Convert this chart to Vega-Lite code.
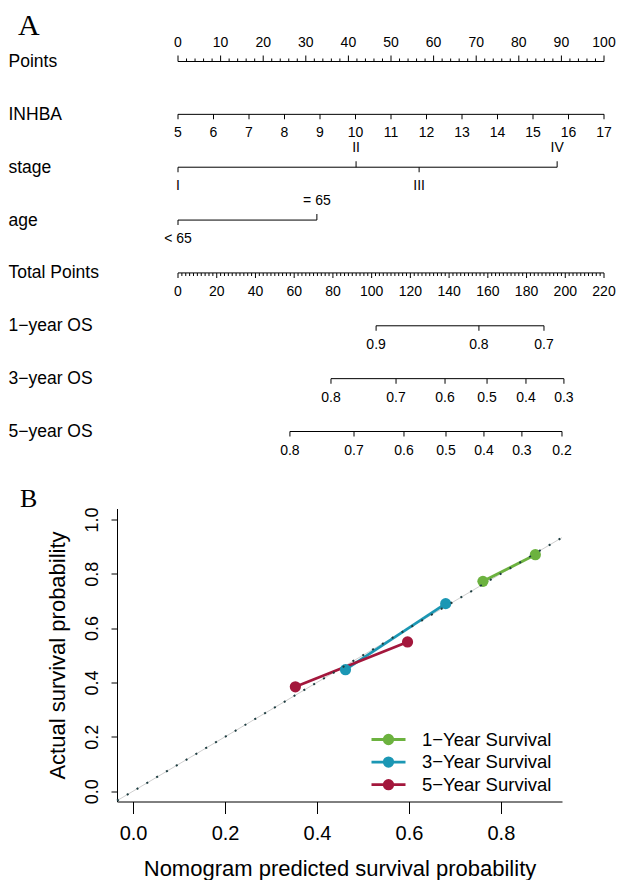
{
  "$schema": "https://vega.github.io/schema/vega-lite/v6.json",
  "background": "white",
  "padding": {"left": 8, "top": 10.5, "right": 0, "bottom": 0},
  "spacing": 28,
  "config": {"view": {"stroke": null}, "font": "Liberation Sans"},
  "vconcat": [
    {
      "width": 487,
      "height": 370,
      "title": {"text": "A", "anchor": "start", "frame": "group", "font": "Liberation Serif", "fontSize": 30, "fontWeight": "normal", "dx": -99, "offset": -29, "baseline": "alphabetic", "color": "black"},
      "encoding": {
        "y": {"field": "r", "type": "nominal",
          "scale": {"type": "point", "padding": 0, "domain": ["Points", "INHBA", "stage", "age", "Total Points", "1−year OS", "3−year OS", "5−year OS"]},
          "axis": {"title": null, "ticks": false, "domain": false, "labelAlign": "left", "labelPadding": 109, "labelFontSize": 17.5, "labelFont": "Liberation Sans", "labelColor": "black", "labelBaseline": "middle", "labelLimit": 200}}
      },
      "resolve": {"scale": {"x": "independent"}},
      "layer": [
        {
          "data": {"values": [
            {"r":"Points","v":0,"l":"0","s":"u","m":1},{"r":"Points","v":2,"l":"","s":"u","m":0},{"r":"Points","v":4,"l":"","s":"u","m":0},{"r":"Points","v":6,"l":"","s":"u","m":0},{"r":"Points","v":8,"l":"","s":"u","m":0},
            {"r":"Points","v":10,"l":"10","s":"u","m":1},{"r":"Points","v":12,"l":"","s":"u","m":0},{"r":"Points","v":14,"l":"","s":"u","m":0},{"r":"Points","v":16,"l":"","s":"u","m":0},{"r":"Points","v":18,"l":"","s":"u","m":0},
            {"r":"Points","v":20,"l":"20","s":"u","m":1},{"r":"Points","v":22,"l":"","s":"u","m":0},{"r":"Points","v":24,"l":"","s":"u","m":0},{"r":"Points","v":26,"l":"","s":"u","m":0},{"r":"Points","v":28,"l":"","s":"u","m":0},
            {"r":"Points","v":30,"l":"30","s":"u","m":1},{"r":"Points","v":32,"l":"","s":"u","m":0},{"r":"Points","v":34,"l":"","s":"u","m":0},{"r":"Points","v":36,"l":"","s":"u","m":0},{"r":"Points","v":38,"l":"","s":"u","m":0},
            {"r":"Points","v":40,"l":"40","s":"u","m":1},{"r":"Points","v":42,"l":"","s":"u","m":0},{"r":"Points","v":44,"l":"","s":"u","m":0},{"r":"Points","v":46,"l":"","s":"u","m":0},{"r":"Points","v":48,"l":"","s":"u","m":0},
            {"r":"Points","v":50,"l":"50","s":"u","m":1},{"r":"Points","v":52,"l":"","s":"u","m":0},{"r":"Points","v":54,"l":"","s":"u","m":0},{"r":"Points","v":56,"l":"","s":"u","m":0},{"r":"Points","v":58,"l":"","s":"u","m":0},
            {"r":"Points","v":60,"l":"60","s":"u","m":1},{"r":"Points","v":62,"l":"","s":"u","m":0},{"r":"Points","v":64,"l":"","s":"u","m":0},{"r":"Points","v":66,"l":"","s":"u","m":0},{"r":"Points","v":68,"l":"","s":"u","m":0},
            {"r":"Points","v":70,"l":"70","s":"u","m":1},{"r":"Points","v":72,"l":"","s":"u","m":0},{"r":"Points","v":74,"l":"","s":"u","m":0},{"r":"Points","v":76,"l":"","s":"u","m":0},{"r":"Points","v":78,"l":"","s":"u","m":0},
            {"r":"Points","v":80,"l":"80","s":"u","m":1},{"r":"Points","v":82,"l":"","s":"u","m":0},{"r":"Points","v":84,"l":"","s":"u","m":0},{"r":"Points","v":86,"l":"","s":"u","m":0},{"r":"Points","v":88,"l":"","s":"u","m":0},
            {"r":"Points","v":90,"l":"90","s":"u","m":1},{"r":"Points","v":92,"l":"","s":"u","m":0},{"r":"Points","v":94,"l":"","s":"u","m":0},{"r":"Points","v":96,"l":"","s":"u","m":0},{"r":"Points","v":98,"l":"","s":"u","m":0},
            {"r":"Points","v":100,"l":"100","s":"u","m":1},
            {"r":"stage","v":0,"l":"I","s":"d","m":1},{"r":"stage","v":41.8,"l":"II","s":"u","m":1},{"r":"stage","v":56.6,"l":"III","s":"d","m":1},{"r":"stage","v":89.0,"l":"IV","s":"u","m":1},
            {"r":"age","v":0,"l":"< 65","s":"d","m":1},{"r":"age","v":32.6,"l":"= 65","s":"u","m":1}
          ]},
          "encoding": {"x": {"field": "v", "type": "quantitative", "scale": {"domain": [0, 100], "range": [61, 487], "nice": false, "zero": false}, "axis": null}},
          "layer": [
            {"mark": {"type": "rule", "color": "black", "strokeWidth": 1},
             "encoding": {"x": {"aggregate": "min", "field": "v", "type": "quantitative", "scale": {"domain": [0, 100], "range": [61, 487], "nice": false, "zero": false}, "axis": null}, "x2": {"aggregate": "max", "field": "v"}}},
            {"transform": [{"filter": "datum.s == 'u' && datum.m == 1"}], "mark": {"type": "tick", "orient": "vertical", "color": "black", "size": 6, "thickness": 1, "yOffset": -3, "opacity": 1}},
            {"transform": [{"filter": "datum.s == 'u' && datum.m == 0"}], "mark": {"type": "tick", "orient": "vertical", "color": "black", "size": 3, "thickness": 1, "yOffset": -1.5, "opacity": 1}},
            {"transform": [{"filter": "datum.s == 'd' && datum.m == 1"}], "mark": {"type": "tick", "orient": "vertical", "color": "black", "size": 5, "thickness": 1, "yOffset": 2.5, "opacity": 1}},
            {"transform": [{"filter": "datum.s == 'u' && datum.l != ''"}], "mark": {"type": "text", "dy": -19, "fontSize": 14, "font": "Liberation Sans", "color": "black", "baseline": "middle", "align": "center"}, "encoding": {"text": {"field": "l"}}},
            {"transform": [{"filter": "datum.s == 'd' && datum.l != ''"}], "mark": {"type": "text", "dy": 19, "fontSize": 14, "font": "Liberation Sans", "color": "black", "baseline": "middle", "align": "center"}, "encoding": {"text": {"field": "l"}}}
          ]
        },
        {
          "data": {"values": [
            {"r":"INHBA","v":5,"l":"5","s":"d","m":1},{"r":"INHBA","v":6,"l":"6","s":"d","m":1},{"r":"INHBA","v":7,"l":"7","s":"d","m":1},{"r":"INHBA","v":8,"l":"8","s":"d","m":1},
            {"r":"INHBA","v":9,"l":"9","s":"d","m":1},{"r":"INHBA","v":10,"l":"10","s":"d","m":1},{"r":"INHBA","v":11,"l":"11","s":"d","m":1},{"r":"INHBA","v":12,"l":"12","s":"d","m":1},
            {"r":"INHBA","v":13,"l":"13","s":"d","m":1},{"r":"INHBA","v":14,"l":"14","s":"d","m":1},{"r":"INHBA","v":15,"l":"15","s":"d","m":1},{"r":"INHBA","v":16,"l":"16","s":"d","m":1},
            {"r":"INHBA","v":17,"l":"17","s":"d","m":1}
          ]},
          "encoding": {"x": {"field": "v", "type": "quantitative", "scale": {"domain": [5, 17], "range": [61, 487], "nice": false, "zero": false}, "axis": null}},
          "layer": [
            {"mark": {"type": "rule", "color": "black", "strokeWidth": 1},
             "encoding": {"x": {"aggregate": "min", "field": "v", "type": "quantitative", "scale": {"domain": [5, 17], "range": [61, 487], "nice": false, "zero": false}, "axis": null}, "x2": {"aggregate": "max", "field": "v"}}},
            {"mark": {"type": "tick", "orient": "vertical", "color": "black", "size": 5, "thickness": 1, "yOffset": 2.5, "opacity": 1}},
            {"mark": {"type": "text", "dy": 19, "fontSize": 14, "font": "Liberation Sans", "color": "black", "baseline": "middle", "align": "center"}, "encoding": {"text": {"field": "l"}}}
          ]
        },
        {
          "data": {"values": [
            {"r":"Total Points","v":0,"l":"0","s":"d","m":1},{"r":"Total Points","v":2,"l":"","s":"d","m":0},{"r":"Total Points","v":4,"l":"","s":"d","m":0},{"r":"Total Points","v":6,"l":"","s":"d","m":0},{"r":"Total Points","v":8,"l":"","s":"d","m":0},{"r":"Total Points","v":10,"l":"","s":"d","m":0},{"r":"Total Points","v":12,"l":"","s":"d","m":0},{"r":"Total Points","v":14,"l":"","s":"d","m":0},{"r":"Total Points","v":16,"l":"","s":"d","m":0},{"r":"Total Points","v":18,"l":"","s":"d","m":0},
            {"r":"Total Points","v":20,"l":"20","s":"d","m":1},{"r":"Total Points","v":22,"l":"","s":"d","m":0},{"r":"Total Points","v":24,"l":"","s":"d","m":0},{"r":"Total Points","v":26,"l":"","s":"d","m":0},{"r":"Total Points","v":28,"l":"","s":"d","m":0},{"r":"Total Points","v":30,"l":"","s":"d","m":0},{"r":"Total Points","v":32,"l":"","s":"d","m":0},{"r":"Total Points","v":34,"l":"","s":"d","m":0},{"r":"Total Points","v":36,"l":"","s":"d","m":0},{"r":"Total Points","v":38,"l":"","s":"d","m":0},
            {"r":"Total Points","v":40,"l":"40","s":"d","m":1},{"r":"Total Points","v":42,"l":"","s":"d","m":0},{"r":"Total Points","v":44,"l":"","s":"d","m":0},{"r":"Total Points","v":46,"l":"","s":"d","m":0},{"r":"Total Points","v":48,"l":"","s":"d","m":0},{"r":"Total Points","v":50,"l":"","s":"d","m":0},{"r":"Total Points","v":52,"l":"","s":"d","m":0},{"r":"Total Points","v":54,"l":"","s":"d","m":0},{"r":"Total Points","v":56,"l":"","s":"d","m":0},{"r":"Total Points","v":58,"l":"","s":"d","m":0},
            {"r":"Total Points","v":60,"l":"60","s":"d","m":1},{"r":"Total Points","v":62,"l":"","s":"d","m":0},{"r":"Total Points","v":64,"l":"","s":"d","m":0},{"r":"Total Points","v":66,"l":"","s":"d","m":0},{"r":"Total Points","v":68,"l":"","s":"d","m":0},{"r":"Total Points","v":70,"l":"","s":"d","m":0},{"r":"Total Points","v":72,"l":"","s":"d","m":0},{"r":"Total Points","v":74,"l":"","s":"d","m":0},{"r":"Total Points","v":76,"l":"","s":"d","m":0},{"r":"Total Points","v":78,"l":"","s":"d","m":0},
            {"r":"Total Points","v":80,"l":"80","s":"d","m":1},{"r":"Total Points","v":82,"l":"","s":"d","m":0},{"r":"Total Points","v":84,"l":"","s":"d","m":0},{"r":"Total Points","v":86,"l":"","s":"d","m":0},{"r":"Total Points","v":88,"l":"","s":"d","m":0},{"r":"Total Points","v":90,"l":"","s":"d","m":0},{"r":"Total Points","v":92,"l":"","s":"d","m":0},{"r":"Total Points","v":94,"l":"","s":"d","m":0},{"r":"Total Points","v":96,"l":"","s":"d","m":0},{"r":"Total Points","v":98,"l":"","s":"d","m":0},
            {"r":"Total Points","v":100,"l":"100","s":"d","m":1},{"r":"Total Points","v":102,"l":"","s":"d","m":0},{"r":"Total Points","v":104,"l":"","s":"d","m":0},{"r":"Total Points","v":106,"l":"","s":"d","m":0},{"r":"Total Points","v":108,"l":"","s":"d","m":0},{"r":"Total Points","v":110,"l":"","s":"d","m":0},{"r":"Total Points","v":112,"l":"","s":"d","m":0},{"r":"Total Points","v":114,"l":"","s":"d","m":0},{"r":"Total Points","v":116,"l":"","s":"d","m":0},{"r":"Total Points","v":118,"l":"","s":"d","m":0},
            {"r":"Total Points","v":120,"l":"120","s":"d","m":1},{"r":"Total Points","v":122,"l":"","s":"d","m":0},{"r":"Total Points","v":124,"l":"","s":"d","m":0},{"r":"Total Points","v":126,"l":"","s":"d","m":0},{"r":"Total Points","v":128,"l":"","s":"d","m":0},{"r":"Total Points","v":130,"l":"","s":"d","m":0},{"r":"Total Points","v":132,"l":"","s":"d","m":0},{"r":"Total Points","v":134,"l":"","s":"d","m":0},{"r":"Total Points","v":136,"l":"","s":"d","m":0},{"r":"Total Points","v":138,"l":"","s":"d","m":0},
            {"r":"Total Points","v":140,"l":"140","s":"d","m":1},{"r":"Total Points","v":142,"l":"","s":"d","m":0},{"r":"Total Points","v":144,"l":"","s":"d","m":0},{"r":"Total Points","v":146,"l":"","s":"d","m":0},{"r":"Total Points","v":148,"l":"","s":"d","m":0},{"r":"Total Points","v":150,"l":"","s":"d","m":0},{"r":"Total Points","v":152,"l":"","s":"d","m":0},{"r":"Total Points","v":154,"l":"","s":"d","m":0},{"r":"Total Points","v":156,"l":"","s":"d","m":0},{"r":"Total Points","v":158,"l":"","s":"d","m":0},
            {"r":"Total Points","v":160,"l":"160","s":"d","m":1},{"r":"Total Points","v":162,"l":"","s":"d","m":0},{"r":"Total Points","v":164,"l":"","s":"d","m":0},{"r":"Total Points","v":166,"l":"","s":"d","m":0},{"r":"Total Points","v":168,"l":"","s":"d","m":0},{"r":"Total Points","v":170,"l":"","s":"d","m":0},{"r":"Total Points","v":172,"l":"","s":"d","m":0},{"r":"Total Points","v":174,"l":"","s":"d","m":0},{"r":"Total Points","v":176,"l":"","s":"d","m":0},{"r":"Total Points","v":178,"l":"","s":"d","m":0},
            {"r":"Total Points","v":180,"l":"180","s":"d","m":1},{"r":"Total Points","v":182,"l":"","s":"d","m":0},{"r":"Total Points","v":184,"l":"","s":"d","m":0},{"r":"Total Points","v":186,"l":"","s":"d","m":0},{"r":"Total Points","v":188,"l":"","s":"d","m":0},{"r":"Total Points","v":190,"l":"","s":"d","m":0},{"r":"Total Points","v":192,"l":"","s":"d","m":0},{"r":"Total Points","v":194,"l":"","s":"d","m":0},{"r":"Total Points","v":196,"l":"","s":"d","m":0},{"r":"Total Points","v":198,"l":"","s":"d","m":0},
            {"r":"Total Points","v":200,"l":"200","s":"d","m":1},{"r":"Total Points","v":202,"l":"","s":"d","m":0},{"r":"Total Points","v":204,"l":"","s":"d","m":0},{"r":"Total Points","v":206,"l":"","s":"d","m":0},{"r":"Total Points","v":208,"l":"","s":"d","m":0},{"r":"Total Points","v":210,"l":"","s":"d","m":0},{"r":"Total Points","v":212,"l":"","s":"d","m":0},{"r":"Total Points","v":214,"l":"","s":"d","m":0},{"r":"Total Points","v":216,"l":"","s":"d","m":0},{"r":"Total Points","v":218,"l":"","s":"d","m":0},
            {"r":"Total Points","v":220,"l":"220","s":"d","m":1},
            {"r":"1−year OS","v":102.3,"l":"0.9","s":"d","m":1},{"r":"1−year OS","v":155.4,"l":"0.8","s":"d","m":1},{"r":"1−year OS","v":189.0,"l":"0.7","s":"d","m":1},
            {"r":"3−year OS","v":79.0,"l":"0.8","s":"d","m":1},{"r":"3−year OS","v":112.6,"l":"0.7","s":"d","m":1},{"r":"3−year OS","v":137.9,"l":"0.6","s":"d","m":1},{"r":"3−year OS","v":159.6,"l":"0.5","s":"d","m":1},{"r":"3−year OS","v":179.7,"l":"0.4","s":"d","m":1},{"r":"3−year OS","v":199.3,"l":"0.3","s":"d","m":1},
            {"r":"5−year OS","v":57.8,"l":"0.8","s":"d","m":1},{"r":"5−year OS","v":90.9,"l":"0.7","s":"d","m":1},{"r":"5−year OS","v":116.7,"l":"0.6","s":"d","m":1},{"r":"5−year OS","v":138.4,"l":"0.5","s":"d","m":1},{"r":"5−year OS","v":158.0,"l":"0.4","s":"d","m":1},{"r":"5−year OS","v":177.6,"l":"0.3","s":"d","m":1},{"r":"5−year OS","v":198.3,"l":"0.2","s":"d","m":1}
          ]},
          "encoding": {"x": {"field": "v", "type": "quantitative", "scale": {"domain": [0, 220], "range": [61, 487], "nice": false, "zero": false}, "axis": null}},
          "layer": [
            {"mark": {"type": "rule", "color": "black", "strokeWidth": 1},
             "encoding": {"x": {"aggregate": "min", "field": "v", "type": "quantitative", "scale": {"domain": [0, 220], "range": [61, 487], "nice": false, "zero": false}, "axis": null}, "x2": {"aggregate": "max", "field": "v"}}},
            {"transform": [{"filter": "datum.m == 1"}], "mark": {"type": "tick", "orient": "vertical", "color": "black", "size": 5, "thickness": 1, "yOffset": 2.5, "opacity": 1}},
            {"transform": [{"filter": "datum.m == 0"}], "mark": {"type": "tick", "orient": "vertical", "color": "black", "size": 3, "thickness": 1, "yOffset": 1.5, "opacity": 1}},
            {"transform": [{"filter": "datum.l != ''"}], "mark": {"type": "text", "dy": 19, "fontSize": 14, "font": "Liberation Sans", "color": "black", "baseline": "middle", "align": "center"}, "encoding": {"text": {"field": "l"}}}
          ]
        }
      ]
    },
    {
      "width": 445,
      "height": 293,
      "title": {"text": "B", "anchor": "start", "frame": "group", "font": "Liberation Serif", "fontSize": 26, "fontWeight": "normal", "dx": -97, "offset": -26, "baseline": "alphabetic", "color": "black"},
      "encoding": {
        "x": {"field": "pred", "type": "quantitative",
          "scale": {"domain": [-0.035, 0.933], "nice": false, "zero": false},
          "axis": {"title": "Nomogram predicted survival probability", "values": [0, 0.2, 0.4, 0.6, 0.8], "format": ".1f", "grid": false, "domainColor": "black", "tickColor": "black", "tickSize": 12, "labelFontSize": 20, "labelFont": "Liberation Sans", "labelColor": "black", "labelPadding": 10, "labelFlush": false, "titleFontSize": 22, "titleFont": "Liberation Sans", "titleFontWeight": "normal", "titleColor": "black", "titlePadding": 15}},
        "y": {"field": "obs", "type": "quantitative",
          "scale": {"domain": [-0.038, 1.04], "nice": false, "zero": false},
          "axis": {"title": "Actual survival probability", "values": [0, 0.2, 0.4, 0.6, 0.8, 1.0], "format": ".1f", "grid": false, "domainColor": "black", "tickColor": "black", "tickSize": 6, "labelAngle": 270, "labelAlign": "center", "labelBaseline": "alphabetic", "labelPadding": 14, "labelFontSize": 18, "labelFont": "Liberation Sans", "labelColor": "black", "labelFlush": false, "labelOverlap": false, "titleFontSize": 22, "titleFont": "Liberation Sans", "titleFontWeight": "normal", "titleColor": "black", "titlePadding": 14}}
      },
      "layer": [
        {
          "data": {"values": [{"pred": -0.035, "obs": -0.035}, {"pred": 0.933, "obs": 0.933}]},
          "mark": {"type": "line", "color": "#cfcfcf", "strokeWidth": 1}
        },
        {
          "data": {"name": "calib"},
          "mark": {"type": "line", "strokeWidth": 2.8},
          "encoding": {
            "color": {"field": "group", "type": "nominal",
              "scale": {"domain": ["1−Year Survival", "3−Year Survival", "5−Year Survival"], "range": ["#6cb23f", "#1b97b4", "#a3173c"]},
              "legend": {"orient": "none", "legendX": 261.5, "legendY": 668, "title": null, "direction": "vertical",
                "symbolType": "M-2,0L2,0M-0.5,0A0.5,0.5,0,1,1,0.5,0A0.5,0.5,0,1,1,-0.5,0Z", "symbolSize": 289, "symbolStrokeWidth": 2.8,
                "labelFontSize": 18.5, "labelFont": "Liberation Sans", "labelColor": "black", "labelOffset": 23.5, "rowPadding": 2.6, "padding": 0,
                "encode": {"symbols": {"update": {"fill": {"scale": "color", "field": "value"}, "stroke": {"scale": "color", "field": "value"}, "opacity": {"value": 1}}}}}}
          }
        },
        {
          "data": {"name": "calib"},
          "mark": {"type": "point", "filled": true, "size": 125, "opacity": 1},
          "encoding": {
            "color": {"field": "group", "type": "nominal",
              "scale": {"domain": ["1−Year Survival", "3−Year Survival", "5−Year Survival"], "range": ["#6cb23f", "#1b97b4", "#a3173c"]},
              "legend": {"orient": "none", "legendX": 261.5, "legendY": 668, "title": null, "direction": "vertical",
                "symbolType": "M-2,0L2,0M-0.5,0A0.5,0.5,0,1,1,0.5,0A0.5,0.5,0,1,1,-0.5,0Z", "symbolSize": 289, "symbolStrokeWidth": 2.8,
                "labelFontSize": 18.5, "labelFont": "Liberation Sans", "labelColor": "black", "labelOffset": 23.5, "rowPadding": 2.6, "padding": 0,
                "encode": {"symbols": {"update": {"fill": {"scale": "color", "field": "value"}, "stroke": {"scale": "color", "field": "value"}, "opacity": {"value": 1}}}}}}
          }
        },
        {
          "data": {"values": [{"pred": -0.035, "obs": -0.035}, {"pred": 0.933, "obs": 0.933}]},
          "mark": {"type": "line", "color": "#1d3d40", "strokeWidth": 2, "strokeDash": [2, 9.4]}
        }
      ]
    }
  ],
  "datasets": {
    "calib": [
      {"group": "1−Year Survival", "pred": 0.761, "obs": 0.772},
      {"group": "1−Year Survival", "pred": 0.875, "obs": 0.870},
      {"group": "3−Year Survival", "pred": 0.462, "obs": 0.447},
      {"group": "3−Year Survival", "pred": 0.680, "obs": 0.690},
      {"group": "5−Year Survival", "pred": 0.353, "obs": 0.384},
      {"group": "5−Year Survival", "pred": 0.597, "obs": 0.549}
    ]
  }
}
